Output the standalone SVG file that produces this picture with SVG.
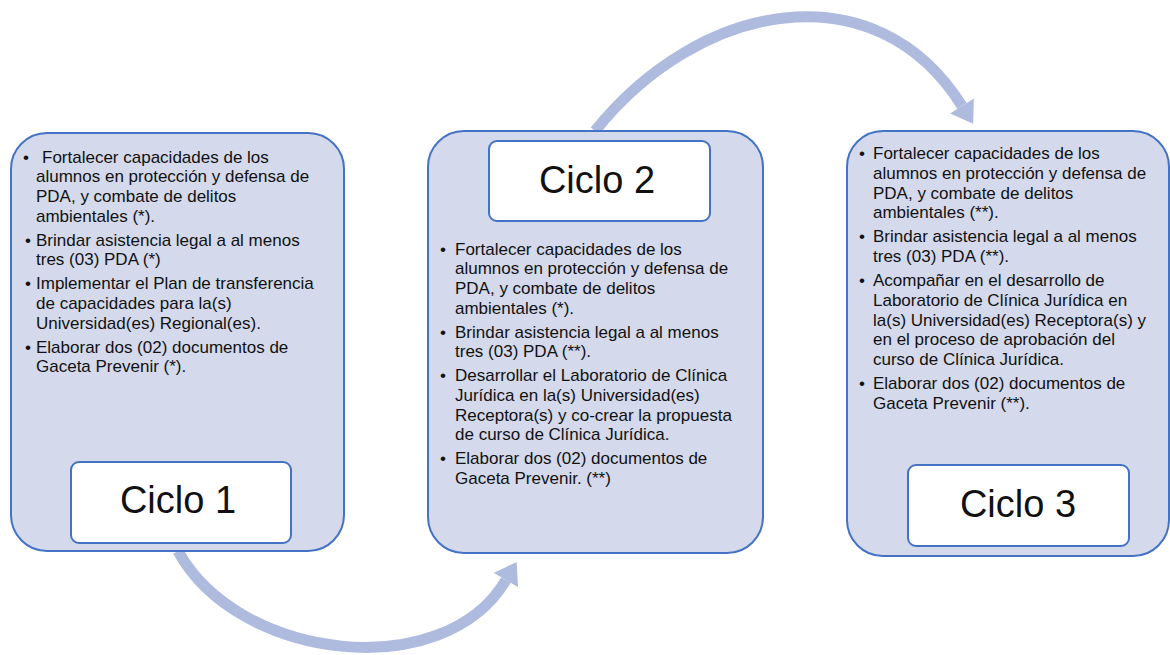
<svg xmlns="http://www.w3.org/2000/svg" width="1170" height="655" viewBox="0 0 1170 655">
<style>
.box{fill:#d4d9ec;stroke:#4472c4;stroke-width:2}
.lbl{fill:#ffffff;stroke:#4472c4;stroke-width:2}
.t{font-family:"Liberation Sans",Arial,sans-serif;font-size:17px;fill:#111}
.c{font-family:"Liberation Sans",Arial,sans-serif;font-size:38px;fill:#111;text-anchor:middle}
.arc{fill:none;stroke:#aebbdf;stroke-width:11}
</style>
<defs>
<marker id="ah" markerUnits="userSpaceOnUse" markerWidth="24" markerHeight="28" refX="0" refY="12" orient="auto" viewBox="0 0 20 24">
<path d="M0,0 L18,12 L0,24 Z" fill="#aebbdf"/>
</marker>
</defs>
<rect width="1170" height="655" fill="#ffffff"/>
<g id="connectors">
<path class="arc" d="M178,551 C238,661 444,685 506,580" marker-end="url(#ah)"/>
<path class="arc" d="M595,131 C698,2 875,-33 962,106" marker-end="url(#ah)"/>
</g>
<g id="ciclo1">
<rect class="box" x="11" y="133" width="333" height="418" rx="36"/>
<g class="t">
<text x="23" y="162.5">•</text><text x="42" y="162.5">Fortalecer capacidades de los</text>
<text x="36" y="182.2">alumnos en protección y defensa de</text>
<text x="36" y="201.9">PDA, y combate de delitos</text>
<text x="36" y="221.6">ambientales (*).</text>
<text x="25" y="245.6">•</text><text x="36" y="245.6">Brindar asistencia legal a al menos</text>
<text x="36" y="265.3">tres (03) PDA (*)</text>
<text x="25" y="289.3">•</text><text x="36" y="289.3">Implementar el Plan de transferencia</text>
<text x="36" y="309">de capacidades para la(s)</text>
<text x="36" y="328.7">Universidad(es) Regional(es).</text>
<text x="25" y="352.7">•</text><text x="36" y="352.7">Elaborar dos (02) documentos de</text>
<text x="36" y="372.4">Gaceta Prevenir (*).</text>
</g>
<rect class="lbl" x="71" y="462" width="220" height="81" rx="8"/>
<text class="c" x="178" y="513">Ciclo 1</text>
</g>
<g id="ciclo2">
<rect class="box" x="428" y="131" width="335" height="422" rx="36"/>
<rect class="lbl" x="489" y="141" width="221" height="80" rx="8"/>
<text class="c" x="597" y="193">Ciclo 2</text>
<g class="t">
<text x="440" y="254.5">•</text><text x="455" y="254.5">Fortalecer capacidades de los</text>
<text x="455" y="274.2">alumnos en protección y defensa de</text>
<text x="455" y="293.9">PDA, y combate de delitos</text>
<text x="455" y="313.6">ambientales (*).</text>
<text x="440" y="337.6">•</text><text x="455" y="337.6">Brindar asistencia legal a al menos</text>
<text x="455" y="357.3">tres (03) PDA (**).</text>
<text x="440" y="381.3">•</text><text x="455" y="381.3">Desarrollar el Laboratorio de Clínica</text>
<text x="455" y="401">Jurídica en la(s) Universidad(es)</text>
<text x="455" y="420.7">Receptora(s) y co-crear la propuesta</text>
<text x="455" y="440.4">de curso de Clínica Jurídica.</text>
<text x="440" y="464.4">•</text><text x="455" y="464.4">Elaborar dos (02) documentos de</text>
<text x="455" y="484.1">Gaceta Prevenir. (**)</text>
</g>
</g>
<g id="ciclo3">
<rect class="box" x="847" y="131" width="322" height="425" rx="36"/>
<g class="t">
<text x="859" y="159.3">•</text><text x="873" y="159.3">Fortalecer capacidades de los</text>
<text x="873" y="179">alumnos en protección y defensa de</text>
<text x="873" y="198.7">PDA, y combate de delitos</text>
<text x="873" y="218.4">ambientales (**).</text>
<text x="859" y="242.4">•</text><text x="873" y="242.4">Brindar asistencia legal a al menos</text>
<text x="873" y="262.1">tres (03) PDA (**).</text>
<text x="859" y="286.1">•</text><text x="873" y="286.1">Acompañar en el desarrollo de</text>
<text x="873" y="305.8">Laboratorio de Clínica Jurídica en</text>
<text x="873" y="325.5">la(s) Universidad(es) Receptora(s) y</text>
<text x="873" y="345.2">en el proceso de aprobación del</text>
<text x="873" y="364.9">curso de Clínica Jurídica.</text>
<text x="859" y="388.9">•</text><text x="873" y="388.9">Elaborar dos (02) documentos de</text>
<text x="873" y="408.6">Gaceta Prevenir (**).</text>
</g>
<rect class="lbl" x="908" y="465" width="221" height="81" rx="8"/>
<text class="c" x="1018" y="517">Ciclo 3</text>
</g>
</svg>
